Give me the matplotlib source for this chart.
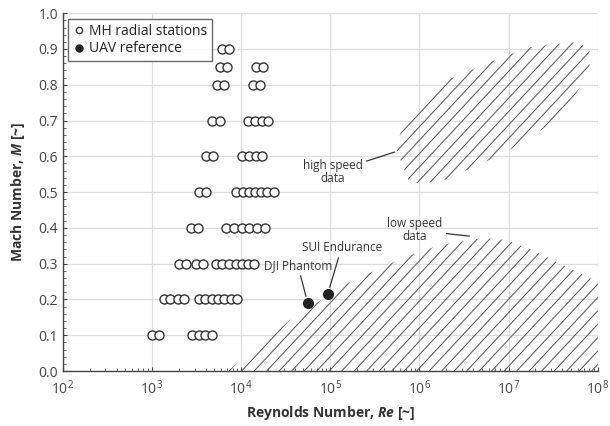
import matplotlib
matplotlib.use('Agg')
import matplotlib.pyplot as plt
import numpy as np
from matplotlib.patches import Polygon
from matplotlib.collections import LineCollection
from matplotlib.ticker import FixedLocator, MultipleLocator, NullFormatter, LogFormatterMathtext

plt.rcParams['font.family'] = ['Open Sans', 'DejaVu Sans']
plt.rcParams['mathtext.fontset'] = 'custom'
plt.rcParams['mathtext.rm'] = 'Open Sans'
plt.rcParams['mathtext.it'] = 'Open Sans:italic:bold'

# MH radial stations: Reynolds numbers at each Mach number
mach_levels = [0.1, 0.2, 0.3, 0.4, 0.5, 0.6, 0.7, 0.8, 0.85, 0.9]
re_by_mach = [
    [995, 1190, 2793, 3350, 3908, 4680],
    [1356, 1584, 1946, 2274, 3350, 3908, 4680, 5466, 6380, 7640, 8930],
    [1995, 2393, 3097, 3715, 5190, 6063, 7262, 8690, 10160, 11850, 13830],
    [2723, 3260, 6715, 8260, 10160, 12160, 14980, 18400],
    [3350, 4010, 8690, 10420, 12160, 14190, 16590, 19360, 23180],
    [4010, 4805, 10160, 12160, 14580, 17020],
    [4680, 5755, 11850, 14190, 17020, 19860],
    [5325, 6380, 13490, 16170],
    [5755, 6898, 14580, 17460],
    [6063, 7262],
]

# UAV reference points
uav_names = ['DJI Phantom', 'SUI Endurance']
uav_re = [55800, 93500]
uav_mach = [0.19, 0.215]

# envelope of the low speed data (log10 Re, M)
low_logre = [3.85, 4.545, 5.195, 5.812, 6.226, 6.709, 6.978, 7.269, 7.65, 8.0, 8.0]
low_mach = [0.0, 0.142, 0.246, 0.316, 0.352, 0.372, 0.366, 0.338, 0.291, 0.249, 0.0]

# envelope of the high speed data (log10 Re, M)
high_logre = [5.812, 5.744, 5.89, 6.226, 6.709, 7.045, 7.538, 7.684, 7.908,
              7.908, 7.717, 7.235, 6.787, 6.305]
high_mach = [0.696, 0.617, 0.525, 0.528, 0.581, 0.623, 0.701, 0.749, 0.832,
             0.905, 0.919, 0.905, 0.863, 0.813]

re_decades = [1e2, 1e3, 1e4, 1e5, 1e6, 1e7, 1e8]

W, H, DPI = 6.1, 4.26, 100
ax_pos = [0.103, 0.129, 0.877, 0.840]

fig = plt.figure(figsize=(W, H), dpi=DPI)
ax = fig.add_axes(ax_pos)
ax.set_xscale('log')
ax.set_xlim(1e2, 1e8)
ax.set_ylim(0, 1.0)

ax_w = W * DPI * ax_pos[2]
ax_h = H * DPI * ax_pos[3]


def hatch_region(logre, mach, spacing=12.5, angle=47):
    poly = Polygon(np.column_stack([10 ** np.array(logre), mach]), closed=True,
                   facecolor='none', edgecolor='none')
    ax.add_patch(poly)
    dx = ax_h / np.tan(np.radians(angle))
    segs = []
    for x0 in np.arange(-dx, ax_w + spacing, spacing):
        segs.append([(x0 / ax_w, 0), ((x0 + dx) / ax_w, 1)])
    lc = LineCollection(segs, colors='#5a5a5a', linewidths=0.75,
                        transform=ax.transAxes)
    ax.add_collection(lc)
    lc.set_clip_path(poly)


hatch_region(low_logre, low_mach)
hatch_region(high_logre, high_mach)

for m, res in zip(mach_levels, re_by_mach):
    ax.plot(res, [m] * len(res), 'o', ms=6.5, mfc='white', mec='#333333',
            mew=1.0, zorder=3)
ax.plot([], [], 'o', ms=4.5, mfc='white', mec='#333333', mew=1.0,
        label='MH radial stations')
ax.plot(uav_re, uav_mach, 'o', ms=7, color='#222222', zorder=4)
ax.plot([], [], 'o', ms=5, color='#222222', label='UAV reference')

# annotations
lbl = dict(fontsize=8.5, color='#333333', ha='center', va='center')
arrow = dict(arrowstyle='-', color='#333333', lw=0.9, shrinkA=1, shrinkB=5)
ax.annotate(uav_names[0], xy=(uav_re[0], uav_mach[0]), xytext=(43200, 0.296),
            arrowprops=arrow, **lbl)
ax.annotate(uav_names[1], xy=(uav_re[1], uav_mach[1]), xytext=(134000, 0.346),
            arrowprops=arrow, **lbl)
ax.annotate('low speed\ndata', xy=(10 ** 6.56, 0.377), xytext=(883000, 0.394),
            arrowprops=dict(arrowstyle='-', color='#333333', lw=0.9, shrinkA=1, shrinkB=0),
            linespacing=1.0, **lbl)
ax.annotate('high speed\ndata', xy=(10 ** 5.72, 0.612), xytext=(106000, 0.556),
            arrowprops=dict(arrowstyle='-', color='#333333', lw=0.9, shrinkA=1, shrinkB=0),
            linespacing=1.0, **lbl)

# axes styling
minor_re = [d * k for d in re_decades[:-1] for k in range(2, 10)]
ax.xaxis.set_major_locator(FixedLocator(re_decades))
ax.xaxis.set_major_formatter(LogFormatterMathtext())
ax.xaxis.set_minor_locator(FixedLocator(minor_re))
ax.xaxis.set_minor_formatter(NullFormatter())
ax.yaxis.set_major_locator(MultipleLocator(0.1))
ax.yaxis.set_minor_locator(MultipleLocator(0.02))
ax.yaxis.set_major_formatter(lambda v, p: f'{v:.1f}')
ax.tick_params(which='both', direction='in', colors='#444444', labelsize=10,
               labelcolor='#444444', top=False, right=False)
ax.tick_params(which='major', length=3, width=0.8)
ax.tick_params(which='minor', length=2, width=0.6)
ax.tick_params(axis='x', pad=6)
ax.grid(True, which='major', color='#dddddd', lw=0.9)
ax.set_axisbelow(True)
for s in ['top', 'right']:
    ax.spines[s].set_visible(False)
for s in ['left', 'bottom']:
    ax.spines[s].set_color('#444444')
    ax.spines[s].set_linewidth(1.0)

ax.set_xlabel('Reynolds Number, $Re$ [~]', fontsize=10, fontweight='bold',
              color='#333333', labelpad=4)
ax.set_ylabel('Mach Number, $M$ [~]', fontsize=10, fontweight='bold',
              color='#333333', labelpad=8)

leg = ax.legend(loc='upper left', fontsize=10, frameon=True, fancybox=False,
                handletextpad=0.2, handlelength=0.9, borderpad=0.35,
                labelspacing=0.2, borderaxespad=0.4)
leg.get_frame().set_edgecolor('#444444')
leg.get_frame().set_linewidth(1.0)
for t in leg.get_texts():
    t.set_color('#222222')

fig.savefig('out.png', dpi=DPI)
